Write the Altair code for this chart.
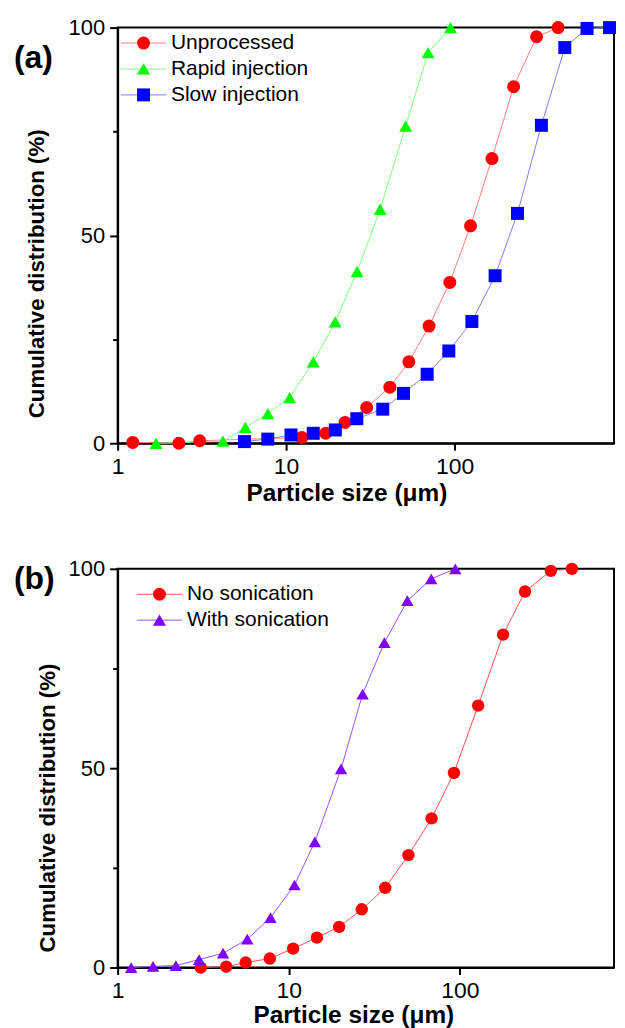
import altair as alt
import pandas as pd

FONT = "Liberation Sans"

# ---------------- Panel (a) data ----------------
a_series = ["Unprocessed", "Rapid injection", "Slow injection"]
unproc_x = [1.23, 2.31, 3.07, 12.4, 17.2, 22.4, 30.1, 41.3, 53.6, 70.6, 93.8, 124.5, 166.9, 224.4, 307, 412]
unproc_y = [0.2, 0, 0.6, 1.4, 2.4, 5.0, 8.6, 13.5, 19.6, 28.2, 38.7, 52.3, 68.5, 85.8, 97.8, 100]
rapid_x = [1.69, 4.22, 5.73, 7.79, 10.5, 14.5, 19.6, 26.4, 36.2, 51.3, 69.7, 94.6]
rapid_y = [0, 0.5, 3.8, 7.1, 11.0, 19.6, 29.2, 41.3, 56.3, 76.3, 94.0, 100]
slow_x = [5.66, 7.79, 10.7, 14.5, 19.6, 26.3, 37.5, 49.8, 68.8, 92.5, 126.8, 174.2, 236.5, 328, 451.6, 612, 832]
slow_y = [0.4, 1.0, 2.0, 2.4, 3.2, 5.9, 8.2, 12.0, 16.6, 22.2, 29.3, 40.3, 55.3, 76.5, 95.2, 99.8, 100]

# ---------------- Panel (b) data ----------------
b_series = ["No sonication", "With sonication"]
nosonic_x = [3.06, 4.31, 5.6, 7.75, 10.6, 14.6, 19.7, 26.7, 36.6, 50, 68.3, 92.3, 127.8, 178.7, 240, 340, 451]
nosonic_y = [0, 0.2, 1.25, 2.25, 4.75, 7.5, 10.2, 14.6, 20.0, 28.2, 37.4, 48.8, 65.7, 83.5, 94.3, 99.5, 100]
sonic_x = [1.2, 1.61, 2.19, 2.99, 4.13, 5.72, 7.82, 10.8, 14.2, 20.2, 27.0, 36.2, 49.3, 68, 94]
sonic_y = [0, 0.3, 0.5, 2.0, 3.6, 7.1, 12.5, 20.7, 31.5, 49.8, 68.6, 81.5, 92, 97.5, 100]

x_ticks = [1, 10, 100]
y_ticks = [0, 25, 50, 75, 100]
x_title = "Particle size (μm)"
y_title = "Cumulative distribution (%)"


def make_df(names, xs, ys):
    rows = []
    for n, xv, yv in zip(names, xs, ys):
        for a, b in zip(xv, yv):
            rows.append({"size": a, "pct": b, "series": n, "lineSeries": n})
    return pd.DataFrame(rows)


df_a = make_df(a_series, [unproc_x, rapid_x, slow_x], [unproc_y, rapid_y, slow_y])
df_b = make_df(b_series, [nosonic_x, sonic_x], [nosonic_y, sonic_y])


def text_layer(txt, x, y, size, angle=0, align="center"):
    return alt.Chart(pd.DataFrame({"t": [txt]})).mark_text(
        align=align, baseline="middle", font=FONT, fontSize=size,
        fontWeight="bold", color="black", angle=angle,
    ).encode(x=alt.value(x), y=alt.value(y), text="t:N")


def panel(df, names, pt_colors, ln_colors, shapes, msize, width, height, xmax,
          label, label_x, label_y, ytx, yty, xtx, xty, leg_x, leg_y):
    xscale = alt.Scale(type="log", domain=[1, xmax], nice=False)
    yscale = alt.Scale(domain=[0, 100], nice=False)
    xaxis = alt.Axis(
        values=x_ticks, format="d", title=None,
        labelFont=FONT, labelFontSize=23, labelColor="black", labelPadding=5,
        tickSize=7, tickWidth=2, tickColor="black", domainColor="black", domainWidth=2,
        grid=False, labelFlush=False,
    )
    yaxis = alt.Axis(
        values=y_ticks, title=None,
        labelExpr="datum.value % 50 == 0 ? datum.label : ''",
        labelFont=FONT, labelFontSize=22, labelColor="black", labelPadding=5,
        tickSize={"condition": {"test": "datum.value % 50 == 0", "value": 8}, "value": 5},
        tickWidth=2, tickColor="black", domainColor="black", domainWidth=2,
        grid=False, labelFlush=False,
    )
    leg_common = dict(
        orient="none", legendX=leg_x, legendY=leg_y, title=None,
        labelFont=FONT, labelFontSize=21, labelColor="black",
        symbolSize=169, rowPadding=4, labelOffset=17, padding=0,
        direction="vertical",
    )
    line_leg = alt.Legend(symbolType="M-3.5,0L3.5,0", symbolStrokeWidth=1,
                          labelOpacity=0, zindex=0, **leg_common)
    pt_leg = alt.Legend(symbolStrokeWidth=0, zindex=1, **leg_common)

    base = alt.Chart(df)
    lines = base.mark_line(strokeWidth=1).encode(
        x=alt.X("size:Q", scale=xscale, axis=xaxis),
        y=alt.Y("pct:Q", scale=yscale, axis=yaxis),
        color=alt.Color("lineSeries:N", sort=names,
                        scale=alt.Scale(domain=names, range=ln_colors), legend=line_leg),
        order="size:Q",
    )
    points = base.mark_point(filled=True, size=msize, opacity=1).encode(
        x=alt.X("size:Q", scale=xscale),
        y=alt.Y("pct:Q", scale=yscale),
        fill=alt.Fill("series:N", sort=names,
                      scale=alt.Scale(domain=names, range=pt_colors), legend=pt_leg),
        shape=alt.Shape("series:N", sort=names,
                        scale=alt.Scale(domain=names, range=shapes), legend=pt_leg),
    )
    lab = text_layer(label, label_x, label_y, 32, align="left")
    ytitle = text_layer(y_title, ytx, yty, 22.3, angle=270)
    xtitle = text_layer(x_title, xtx, xty, 24.5)
    return alt.layer(lines, points, lab, ytitle, xtitle).resolve_scale(
        color="independent", fill="independent", shape="independent"
    ).properties(
        width=width, height=height,
        view=alt.ViewBackground(stroke="black", strokeWidth=2),
    )


pa = panel(df_a, a_series,
           ["#FF0000", "#00FF00", "#0000FF"],
           ["#FF8080", "#80FF80", "#8080FF"],
           ["circle", "triangle-up", "square"],
           170,
           498, 417, 885, "(a)", -104, 31, -80.5, 247, 230, 468, 15.5, 5)

pb = panel(df_b, b_series,
           ["#FF0000", "#8000FF"],
           ["#FF5050", "#A050FF"],
           ["circle", "triangle-up"],
           155,
           498, 400, 795, "(b)", -104, 10, -70, 240, 237, 449, 31.5, 15)

chart = alt.concat(pa, pb, columns=1, spacing=50).properties(
    padding={"left": 5, "top": 6, "right": 0, "bottom": 0},
).configure(background="white").configure_view(stroke="black", strokeWidth=2)

chart.save("out.html", embed_options={"renderer": "svg", "actions": False})
